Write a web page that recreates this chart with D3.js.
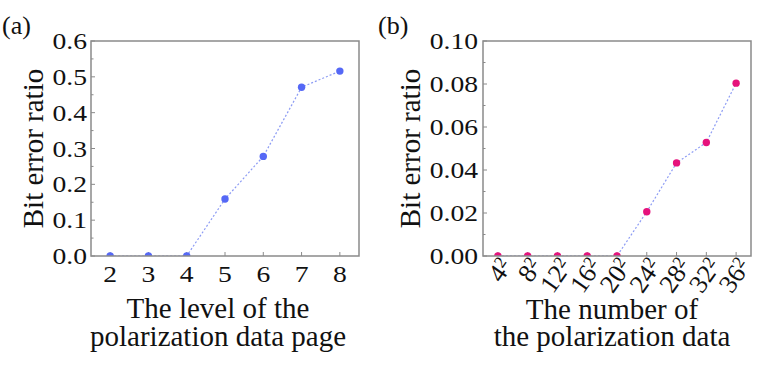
<!DOCTYPE html>
<html>
<head>
	<meta charset="utf-8">
	<script src="https://d3js.org/d3.v7.min.js"></script>
</head>
<body style="margin:0">
	<script type="text/javascript">
		// panel (a)
		const levels = [2, 3, 4, 5, 6, 7, 8]
		const berA = [0, 0, 0, 0.159, 0.278, 0.471, 0.516]
		const yTicksA = [0, 0.1, 0.2, 0.3, 0.4, 0.5, 0.6]
		// panel (b)
		const dataSizes = [4, 8, 12, 16, 20, 24, 28, 32, 36]
		const berB = [0, 0, 0, 0, 0, 0.0206, 0.0433, 0.0528, 0.0804]
		const yTicksB = [0, 0.02, 0.04, 0.06, 0.08, 0.10]

		const W = 783, H = 373
		const frameColor = '#8a8a8a'
		const lineColor = '#8d9cf4'

		const svg = d3.select('body').append('svg')
			.attr('width', W)
			.attr('height', H)

		// text stretched a little wider, like the picture
		function txt(g, x, y, s, size, anchor, sx) {
			return g.append('text')
				.attr('transform', 'translate(' + x + ',' + y + ') scale(' + (sx || 1) + ',1)')
				.attr('text-anchor', anchor || 'start')
				.style('font-family', "'Liberation Serif'")
				.style('font-size', size + 'px')
				.style('fill', '#111')
				.text(s)
		}

		// ---------- (a)
		const ma = {l: 91, r: 359, t: 41, b: 256}
		const xA = d3.scaleLinear().domain([1.5, 8.5]).range([ma.l, ma.r])
		const yA = d3.scaleLinear().domain([0, 0.6]).range([ma.b, ma.t])

		const ga = svg.append('g')
		ga.append('clipPath').attr('id', 'clipA').append('rect')
			.attr('x', ma.l).attr('y', ma.t).attr('width', ma.r - ma.l).attr('height', ma.b - ma.t)

		// inward ticks
		ga.selectAll('line.xt').data(levels).enter().append('line')
			.attr('x1', d => xA(d)).attr('x2', d => xA(d))
			.attr('y1', ma.b).attr('y2', ma.b - 4)
			.style('stroke', frameColor).style('stroke-width', 1)
		ga.selectAll('line.yt').data(d3.range(0, 0.61, 0.05)).enter().append('line')
			.attr('x1', ma.l).attr('x2', (d, i) => ma.l + (i % 2 ? 2.5 : 4))
			.attr('y1', d => yA(d)).attr('y2', d => yA(d))
			.style('stroke', frameColor).style('stroke-width', 1)

		const lineA = d3.line().x((d, i) => xA(levels[i])).y(d => yA(d))
		const plotA = ga.append('g').attr('clip-path', 'url(#clipA)')
		plotA.append('path')
			.attr('d', lineA(berA))
			.style('fill', 'none')
			.style('stroke', lineColor)
			.style('stroke-width', 1.2)
			.style('stroke-dasharray', '2,2')
		plotA.selectAll('circle').data(berA).enter().append('circle')
			.attr('cx', (d, i) => xA(levels[i]))
			.attr('cy', d => yA(d))
			.attr('r', 3.7)
			.style('fill', '#5568f6')

		ga.append('rect')
			.attr('x', ma.l).attr('y', ma.t).attr('width', ma.r - ma.l).attr('height', ma.b - ma.t)
			.style('fill', 'none').style('stroke', frameColor).style('stroke-width', 1.5)

		yTicksA.forEach(v => txt(ga, ma.l - 4, yA(v) + 8, d3.format('.1f')(v), 24, 'end', 1.15))
		levels.forEach(v => txt(ga, xA(v), 282, v, 24, 'middle', 1.15))

		txt(ga, 218, 318, 'The level of the', 29, 'middle')
		txt(ga, 218, 346, 'polarization data page', 29, 'middle')
		ga.append('text')
			.attr('transform', 'translate(43,' + (ma.t + ma.b) / 2 + ') rotate(-90)')
			.attr('text-anchor', 'middle')
			.style('font-family', "'Liberation Serif'")
			.style('font-size', '29px')
			.style('fill', '#111')
			.text('Bit error ratio')
		txt(ga, 2, 34, '(a)', 26, 'start')

		// ---------- (b)
		const mb = {l: 483, r: 751, t: 41, b: 256}
		const xB = d3.scaleLinear().domain([-0.5, dataSizes.length - 0.5]).range([mb.l, mb.r])
		const yB = d3.scaleLinear().domain([0, 0.1]).range([mb.b, mb.t])

		const gb = svg.append('g')
		gb.append('clipPath').attr('id', 'clipB').append('rect')
			.attr('x', mb.l).attr('y', mb.t).attr('width', mb.r - mb.l).attr('height', mb.b - mb.t)

		gb.selectAll('line.xt').data(dataSizes).enter().append('line')
			.attr('x1', (d, i) => xB(i)).attr('x2', (d, i) => xB(i))
			.attr('y1', mb.b).attr('y2', mb.b - 4)
			.style('stroke', frameColor).style('stroke-width', 1)
		gb.selectAll('line.yt').data(d3.range(0, 0.101, 0.01)).enter().append('line')
			.attr('x1', mb.l).attr('x2', (d, i) => mb.l + (i % 2 ? 2.5 : 4))
			.attr('y1', d => yB(d)).attr('y2', d => yB(d))
			.style('stroke', frameColor).style('stroke-width', 1)

		const lineB = d3.line().x((d, i) => xB(i)).y(d => yB(d))
		const plotB = gb.append('g').attr('clip-path', 'url(#clipB)')
		plotB.append('path')
			.attr('d', lineB(berB))
			.style('fill', 'none')
			.style('stroke', lineColor)
			.style('stroke-width', 1.2)
			.style('stroke-dasharray', '2,2')
		plotB.selectAll('circle').data(berB).enter().append('circle')
			.attr('cx', (d, i) => xB(i))
			.attr('cy', d => yB(d))
			.attr('r', 3.7)
			.style('fill', '#e6127c')

		gb.append('rect')
			.attr('x', mb.l).attr('y', mb.t).attr('width', mb.r - mb.l).attr('height', mb.b - mb.t)
			.style('fill', 'none').style('stroke', frameColor).style('stroke-width', 1.5)

		yTicksB.forEach(v => txt(gb, mb.l - 5, yB(v) + 8, d3.format('.2f')(v), 24, 'end', 1.15))

		// rotated x labels with squared superscript
		dataSizes.forEach((v, i) => {
			const t = gb.append('text')
				.attr('transform', 'translate(' + (xB(i) + 8) + ',261) rotate(-55)')
				.attr('text-anchor', 'end')
				.attr('dy', '0.35em')
				.style('font-family', "'Liberation Serif'")
				.style('font-size', '26px')
				.style('fill', '#111')
			t.append('tspan').text(v)
			t.append('tspan').attr('dy', '-0.45em').style('font-size', '17px').text('2')
		})

		txt(gb, 612, 319, 'The number of', 29, 'middle')
		txt(gb, 612, 346, 'the polarization data', 29, 'middle')
		gb.append('text')
			.attr('transform', 'translate(420,' + (mb.t + mb.b) / 2 + ') rotate(-90)')
			.attr('text-anchor', 'middle')
			.style('font-family', "'Liberation Serif'")
			.style('font-size', '29px')
			.style('fill', '#111')
			.text('Bit error ratio')
		txt(gb, 378, 34, '(b)', 26, 'start')
	</script>
</body>
</html>
